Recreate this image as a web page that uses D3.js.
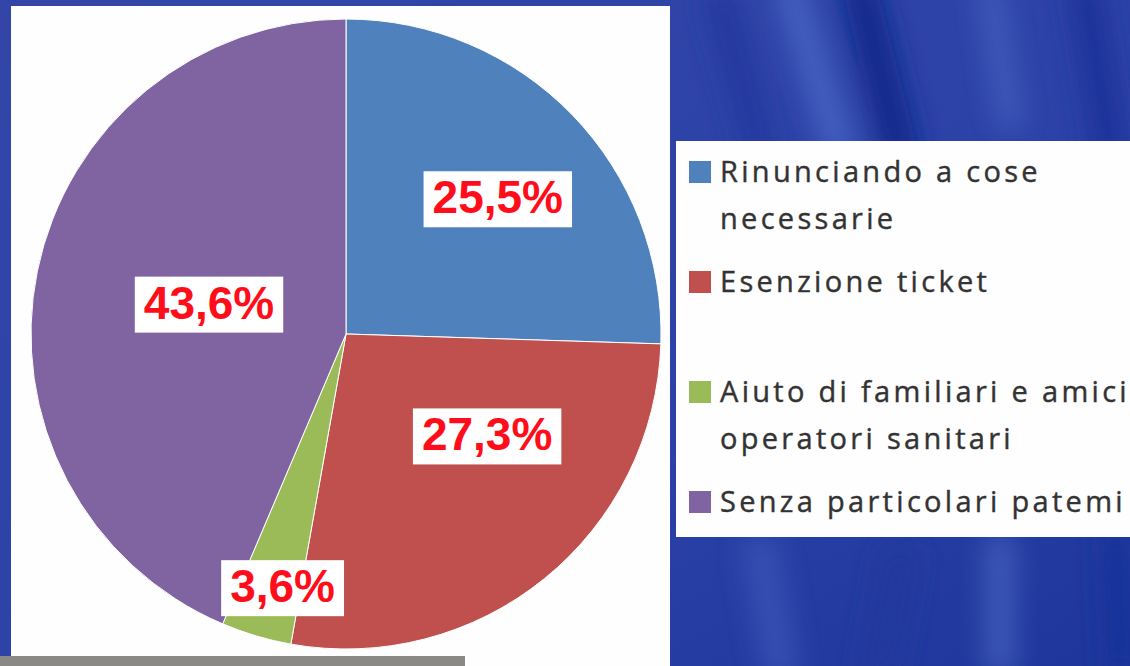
<!DOCTYPE html>
<html>
<head>
<meta charset="utf-8">
<script src="https://cdn.jsdelivr.net/npm/d3@7"></script>
<style>
  html, body { margin: 0; padding: 0; background: #2a3ea6; }
  svg { display: block; }
</style>
</head>
<body>
<svg id="chart" width="1130" height="666"></svg>
<script>
// //////// DATA

const categories = [
  "Rinunciando a cose necessarie",
  "Esenzione ticket",
  "Aiuto di familiari e amici operatori sanitari",
  "Senza particolari patemi",
];
const values = [25.5, 27.3, 3.6, 43.6];
const valueLabels = ["25,5%", "27,3%", "3,6%", "43,6%"];
// legend text as it wraps in the picture
const legendLines = [
  ["Rinunciando a cose", "necessarie"],
  ["Esenzione ticket"],
  ["Aiuto di familiari e amici", "operatori sanitari"],
  ["Senza particolari patemi"],
];
const colors = ["#4f81bd", "#c0504d", "#9bbb59", "#8064a2"];

// //////// LAYOUT

const W = 1130;
const H = 666;
const cx = 346;
const cy = 334;
const radius = 315;

// where excel put the labels, relative to each slice centroid
const labelRadius = [0.64, 0.58, 0.84, 0.46];
const labelNudge = [[7, 3], [26, -42], [12, -2], [5, -3]];

const svg = d3.select("#chart");
const defs = svg.append("defs");

// //////// BACKGROUND

const bgGrad = defs.append("linearGradient")
  .attr("id", "bg").attr("x1", 0).attr("y1", 0).attr("x2", 1).attr("y2", 1);
bgGrad.append("stop").attr("offset", 0).attr("stop-color", "#3346a8");
bgGrad.append("stop").attr("offset", 0.6).attr("stop-color", "#2c42a8");
bgGrad.append("stop").attr("offset", 1).attr("stop-color", "#1e369c");

defs.append("filter").attr("id", "blur")
  .attr("x", "-50%").attr("y", "-50%").attr("width", "200%").attr("height", "200%")
  .append("feGaussianBlur").attr("stdDeviation", 14);

svg.append("rect").attr("width", W).attr("height", H).attr("fill", "url(#bg)");

// streaky texture of the slide background
const streaks = [
  { p: [[790, -10], [840, 150]], c: "#4a68c8", w: 24 },
  { p: [[860, -10], [900, 150]], c: "#102888", w: 34 },
  { p: [[990, -10], [1010, 120]], c: "#4461c0", w: 20 },
  { p: [[720, 0], [760, 150]], c: "#24399e", w: 30 },
  { p: [[1085, -10], [1110, 150]], c: "#1c329a", w: 34 },
  { p: [[1000, 545], [1000, 666]], c: "#4560bc", w: 24 },
  { p: [[900, 560], [880, 666]], c: "#22389c", w: 34 },
  { p: [[1115, 540], [1120, 666]], c: "#17309a", w: 26 },
  { p: [[760, 550], [780, 666]], c: "#3750b4", w: 34 },
];
const line = d3.line();
svg.append("g").attr("filter", "url(#blur)")
  .selectAll("path")
  .data(streaks)
  .join("path")
  .attr("d", (d) => line(d.p))
  .attr("stroke", (d) => d.c)
  .attr("stroke-width", (d) => d.w)
  .attr("stroke-linecap", "round")
  .attr("fill", "none");

// white panels of the chart and the legend
svg.append("rect").attr("x", 11).attr("y", 6).attr("width", 659).attr("height", H - 6)
  .attr("fill", "#fefefe");
svg.append("rect").attr("x", 676).attr("y", 141).attr("width", W - 676).attr("height", 396)
  .attr("fill", "#fefefe");

// grey strip at the bottom left
svg.append("rect").attr("x", 0).attr("y", 656).attr("width", 465).attr("height", 10)
  .attr("fill", "#8a8986");

// //////// PIE

const pie = d3.pie().sort(null).value((d) => d);
const arcs = pie(values);

const arc = d3.arc().innerRadius(0).outerRadius(radius);

const g = svg.append("g").attr("transform", `translate(${cx},${cy})`);

g.selectAll("path")
  .data(arcs)
  .join("path")
  .attr("d", arc)
  .attr("fill", (d, i) => colors[i])
  .attr("stroke", "#ffffff")
  .attr("stroke-width", 1);

// labels in white boxes
const labels = g.append("g")
  .selectAll("g")
  .data(arcs)
  .join("g")
  .attr("transform", (d, i) => {
    const [x, y] = d3.arc().innerRadius(0).outerRadius(radius * labelRadius[i] * 2).centroid(d);
    return `translate(${x + labelNudge[i][0]},${y + labelNudge[i][1]})`;
  });

labels.append("rect").attr("fill", "#ffffff");
labels.append("text")
  .attr("text-anchor", "middle")
  .attr("dy", "0.36em")
  .attr("font-family", "'Liberation Sans', Arial, sans-serif")
  .attr("font-weight", "bold")
  .attr("font-size", 46)
  .attr("fill", "#ff0d1a")
  .text((d, i) => valueLabels[i]);

labels.each(function () {
  const box = d3.select(this).select("text").node().getBBox();
  d3.select(this).select("rect")
    .attr("x", box.x - 9)
    .attr("y", box.y)
    .attr("width", box.width + 18)
    .attr("height", box.height + 4);
});

// //////// LEGEND

const rowY = d3.scalePoint().domain(categories).range([182, 512]);
const lineStep = 47;

const legend = svg.append("g")
  .selectAll("g")
  .data(categories)
  .join("g")
  .attr("transform", (d) => `translate(689,${rowY(d)})`);

legend.append("rect")
  .attr("x", 0)
  .attr("y", -21)
  .attr("width", 22)
  .attr("height", 22)
  .attr("fill", (d, i) => colors[i]);

legend.append("text")
  .attr("font-family", "'Open Sans', sans-serif")
  .attr("font-size", 29)
  .attr("letter-spacing", 3.3)
  .attr("fill", "#333333")
  .attr("stroke", "#333333")
  .attr("stroke-width", 0.4)
  .selectAll("tspan")
  .data((d, i) => legendLines[i])
  .join("tspan")
  .attr("x", 31)
  .attr("y", (d, j) => j * lineStep)
  .text((d) => d);
</script>
</body>
</html>
